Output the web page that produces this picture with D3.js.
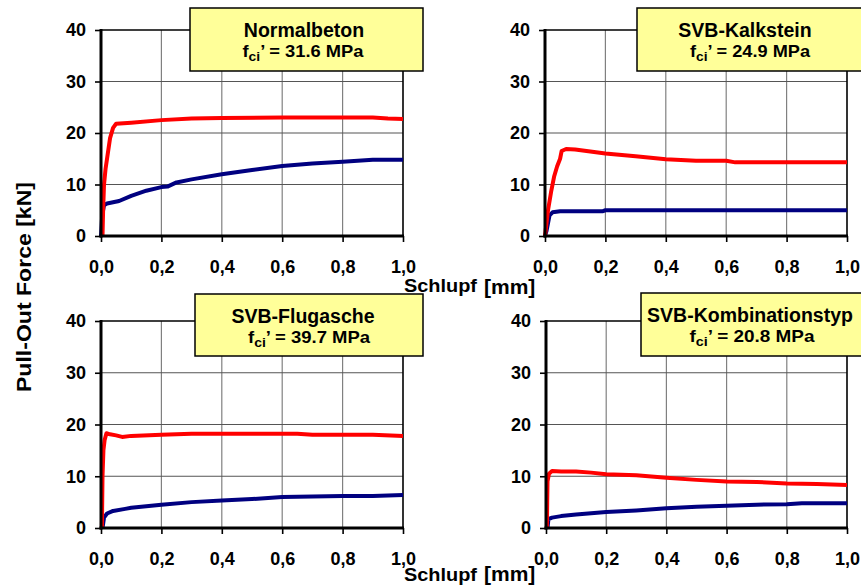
<!DOCTYPE html>
<html>
<head>
<meta charset="utf-8">
<script src="https://cdn.jsdelivr.net/npm/d3@7"></script>
<style>
  body { margin: 0; background: #fff; }
  text { font-family: Arial, "Liberation Sans", sans-serif; font-weight: bold; }
</style>
</head>
<body>
<svg id="chart" width="861" height="587"></svg>
<script>
// Panel titles and strengths
const titles = ["Normalbeton", "SVB-Kalkstein", "SVB-Flugasche", "SVB-Kombinationstyp"];
const strengths = ["’ = 31.6 MPa", "’ = 24.9 MPa", "’ = 39.7 MPa", "’  = 20.8 MPa"];
const xTicks = [0, 0.2, 0.4, 0.6, 0.8, 1.0];
const yTicks = [0, 10, 20, 30, 40];

// [slip mm, force kN]
const normalRed = [[0.005,0],[0.007,5],[0.01,10],[0.015,13],[0.02,15],[0.03,19],[0.04,21],[0.05,21.8],[0.1,22],[0.2,22.5],[0.3,22.8],[0.4,22.9],[0.6,23],[0.8,23],[0.9,23],[0.95,22.8],[1.0,22.7]];
const normalBlue = [[0,0],[0.004,4],[0.01,6],[0.02,6.3],[0.06,6.8],[0.1,7.8],[0.15,8.8],[0.2,9.5],[0.22,9.6],[0.25,10.4],[0.3,11],[0.4,12],[0.5,12.8],[0.6,13.6],[0.7,14.1],[0.8,14.4],[0.9,14.8],[1.0,14.8]];
const kalkRed = [[0,0],[0.01,5],[0.02,8.5],[0.03,11.5],[0.04,13.5],[0.05,15],[0.055,16.5],[0.07,16.9],[0.1,16.8],[0.2,16],[0.3,15.5],[0.4,14.9],[0.5,14.6],[0.6,14.6],[0.63,14.3],[0.8,14.3],[1.0,14.3]];
const kalkBlue = [[0,0],[0.005,1],[0.01,2.5],[0.015,4],[0.025,4.6],[0.05,4.8],[0.19,4.8],[0.2,5],[0.5,5],[1.0,5]];
const flugRed = [[0.003,0],[0.005,10],[0.008,15],[0.012,17],[0.018,18.3],[0.03,18.1],[0.05,17.9],[0.07,17.6],[0.1,17.8],[0.2,18],[0.3,18.2],[0.5,18.2],[0.65,18.2],[0.7,18],[0.9,18],[1.0,17.8]];
const flugBlue = [[0.005,0],[0.01,2],[0.02,2.8],[0.04,3.3],[0.08,3.7],[0.1,3.9],[0.2,4.5],[0.3,5],[0.4,5.3],[0.5,5.6],[0.6,6],[0.8,6.2],[0.9,6.2],[1.0,6.4]];
const kombiRed = [[0.003,0],[0.004,5],[0.005,9],[0.01,10.5],[0.02,11],[0.05,10.9],[0.1,10.9],[0.15,10.7],[0.2,10.4],[0.3,10.2],[0.4,9.7],[0.5,9.3],[0.6,9],[0.7,8.9],[0.8,8.6],[0.9,8.5],[1.0,8.3]];
const kombiBlue = [[0.005,0],[0.008,1.7],[0.02,2],[0.05,2.3],[0.1,2.6],[0.2,3.1],[0.3,3.4],[0.4,3.8],[0.5,4.1],[0.6,4.3],[0.7,4.5],[0.8,4.6],[0.85,4.8],[0.9,4.8],[1.0,4.8]];

const svg = d3.select("#chart");

// plot positions (left, right, top, bottom) and note boxes
const layout = [
  { l: 101, r: 403, t: 30, b: 236, box: [190, 8, 233, 63], tx: 304, sx: 303, sw: 121 },
  { l: 545, r: 847, t: 30, b: 236, box: [637, 8, 230, 63], tx: 745, sx: 750, sw: 120 },
  { l: 101, r: 403, t: 321, b: 528, box: [195, 294, 228, 62], tx: 303, sx: 309, sw: 122 },
  { l: 546, r: 847, t: 321, b: 528, box: [641, 293, 230, 63], tx: 750, sx: 752, sw: 125 }
];
const series = [[normalRed, normalBlue], [kalkRed, kalkBlue], [flugRed, flugBlue], [kombiRed, kombiBlue]];

layout.forEach((p, i) => {
  const x = d3.scaleLinear().domain([0, 1]).range([p.l, p.r]);
  const y = d3.scaleLinear().domain([0, 40]).range([p.b, p.t]);
  const g = svg.append("g");

  // grid
  g.selectAll(".vg").data(xTicks.slice(1, -1)).join("line")
    .attr("x1", d => x(d)).attr("x2", d => x(d))
    .attr("y1", p.t).attr("y2", p.b)
    .attr("stroke", "#808080").attr("stroke-width", 1.2);
  g.selectAll(".hg").data(yTicks.slice(1, -1)).join("line")
    .attr("x1", p.l).attr("x2", p.r)
    .attr("y1", d => y(d)).attr("y2", d => y(d))
    .attr("stroke", "#555").attr("stroke-width", 1.2);
  // top and right border
  g.append("path")
    .attr("d", `M${p.l},${p.t}H${p.r}V${p.b}`)
    .attr("fill", "none").attr("stroke", "#000").attr("stroke-width", 1.6);

  // curves
  const line = d3.line().x(d => x(d[0])).y(d => y(d[1]));
  const colors = ["#ff0000", "#000080"];
  series[i].slice().reverse().forEach((s, k) => {
    g.append("path").datum(s)
      .attr("d", line)
      .attr("fill", "none")
      .attr("stroke", colors[1 - k])
      .attr("stroke-width", 4)
      .attr("stroke-linejoin", "round");
  });

  // axes
  const yAxis = d3.axisLeft(y).tickValues(yTicks).tickSize(6).tickPadding(9).tickFormat(d3.format("d"));
  const xAxis = d3.axisBottom(x).tickValues(xTicks).tickSize(6).tickPadding(18)
    .tickFormat(d => d3.format(".1f")(d).replace(".", ","));
  const ya = g.append("g").attr("transform", `translate(${p.l},0)`).call(yAxis);
  const xa = g.append("g").attr("transform", `translate(0,${p.b})`).call(xAxis);
  [ya, xa].forEach(a => {
    a.select(".domain").remove();
    a.selectAll("line").attr("stroke", "#000").attr("stroke-width", 1.6);
    a.selectAll("text").attr("font-size", 18).attr("fill", "#000")
      .attr("font-family", "Arial, 'Liberation Sans', sans-serif").attr("font-weight", "bold");
  });
  g.append("line").attr("x1", p.l).attr("x2", p.l).attr("y1", p.t - 1).attr("y2", p.b + 1.5)
    .attr("stroke", "#000").attr("stroke-width", 3);
  g.append("line").attr("x1", p.l - 1.5).attr("x2", p.r + 1).attr("y1", p.b).attr("y2", p.b)
    .attr("stroke", "#000").attr("stroke-width", 3);

  // note box
  const [bx, by, bw, bh] = p.box;
  g.append("rect").attr("x", bx).attr("y", by).attr("width", bw).attr("height", bh)
    .attr("fill", "#ffff99").attr("stroke", "#000").attr("stroke-width", 1.5);
  g.append("text").attr("x", p.tx).attr("y", by + 29).attr("text-anchor", "middle")
    .attr("font-size", 19.5).text(titles[i]);
  const st = g.append("text").attr("x", p.sx).attr("y", by + 49).attr("text-anchor", "middle")
    .attr("font-size", 16.5)
    .attr("textLength", p.sw).attr("lengthAdjust", "spacingAndGlyphs");
  st.append("tspan").text("f");
  st.append("tspan").attr("font-size", 12.5).attr("dy", 4).text("ci");
  st.append("tspan").attr("dy", -4).text(strengths[i]);
});

// axis titles
[[292, 294], [581, 581]].forEach(([ys, ym]) => {
  svg.append("text").attr("x", 404).attr("y", ys).attr("font-size", 17.5)
    .attr("textLength", 73).attr("lengthAdjust", "spacingAndGlyphs").text("Schlupf");
  svg.append("text").attr("x", 484).attr("y", ym).attr("font-size", 21).text("[mm]");
});
svg.append("text")
  .attr("transform", "translate(31,287) rotate(-90)")
  .attr("text-anchor", "middle")
  .attr("font-size", 20)
  .attr("textLength", 210).attr("lengthAdjust", "spacingAndGlyphs")
  .text("Pull-Out Force [kN]");
</script>
</body>
</html>
